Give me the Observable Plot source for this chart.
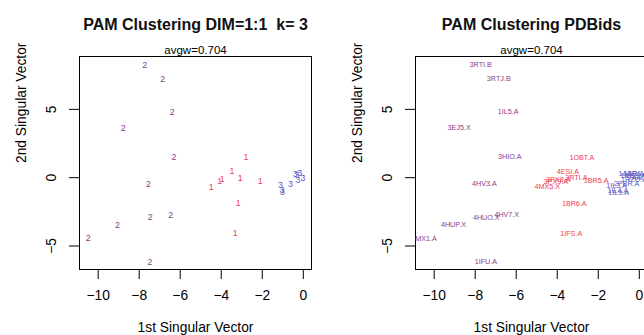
<!DOCTYPE html>
<html><head><meta charset="utf-8">
<script src="https://cdn.jsdelivr.net/npm/d3@7"></script>
<script src="https://cdn.jsdelivr.net/npm/@observablehq/plot@0.6"></script>
<style>
html,body{margin:0;padding:0;width:644px;height:335px;overflow:hidden;background:#fff}
#wrap{position:relative;width:644px;height:335px;overflow:hidden;background:#fff}
.panel{position:absolute;top:0}
</style></head><body><div id="wrap"></div>
<script>
// Data
const pointX = [-7.73,-6.85,-6.39,-8.78,-6.31,-7.55,-7.46,-6.46,-9.06,-10.49,-7.48,
  -2.80,-3.48,-3.95,-4.07,-3.07,-2.10,-4.49,-3.17,-3.32,
  -1.11,-1.04,-1.01,-0.62,-0.39,-0.18,-0.26,-0.02,-0.31];
const pointY = [8.26,7.21,4.83,3.64,1.53,-0.44,-2.91,-2.72,-3.47,-4.44,-6.16,
  1.49,0.47,-0.12,-0.29,-0.02,-0.22,-0.68,-1.87,-4.08,
  -0.58,-0.95,-1.09,-0.46,0.27,0.32,-0.17,0.00,0.15];
const cluster = [2,2,2,2,2,2,2,2,2,2,2,
  1,1,1,1,1,1,1,1,1,
  3,3,3,3,3,3,3,3,3];
const pdbIds = ["3RTI.B","3RTJ.B","1IL5.A","3EJ5.X","3HIO.A","4HV3.A","4HUO.X","4HV7.X","4HUP.X","4MX1.A","1IFU.A",
  "1OBT.A","4ESI.A","3PX8.A","3PX9.A","3RTI.A","1BR5.A","4MX5.X","1BR6.A","1IFS.A",
  "1IL3.A","1IL4.A","1IL9.A","2PBR.A","1ABR.A","1APA.A","1RZO.A","2AAI.A","1ABE.A"];
const clusterIds = [1,2,3];
const clusterColors = ["#f03c50","#8a3a8e","#5a5ac4"];
const xTicks = [-10,-8,-6,-4,-2,0];
const yTicks = [-5,0,5];
const xDomain = [-10.91,0.40];
const yDomain = [-6.72,8.87];
const titles = ["PAM Clustering DIM=1:1  k= 3","PAM Clustering PDBids"];
const subtitle = "avgw=0.704";
const xLabel = "1st Singular Vector";
const yLabel = "2nd Singular Vector";

const FONT = "'Liberation Sans', Arial, Helvetica, sans-serif";

function panel(title, labelOf, labelSize) {
  const data = pointX.map((x, i) => ({x, y: pointY[i], c: cluster[i], label: labelOf(i)}));
  return Plot.plot({
    width: 322, height: 335,
    marginLeft: 79, marginRight: 11, marginTop: 56, marginBottom: 66,
    style: {fontFamily: FONT, background: "white", color: "black", overflow: "visible"},
    x: {domain: xDomain, axis: null},
    y: {domain: yDomain, axis: null},
    color: {type: "ordinal", domain: clusterIds, range: clusterColors},
    marks: [
      Plot.frame({stroke: "black", strokeWidth: 1}),
      Plot.axisX({ticks: xTicks, tickSize: 10, tickPadding: 11, fontSize: 13.8, label: null, anchor: "bottom"}),
      Plot.axisY({ticks: yTicks, tickSize: 10, tickPadding: 13.5, tickRotate: -90, fontSize: 13.8, label: null, anchor: "left"}),
      Plot.text(data, {x: "x", y: "y", text: "label", fill: "c", fontSize: labelSize, clip: true}),
      Plot.text([title], {text: d => d, frameAnchor: "top", lineAnchor: "middle", dy: -31.6, fontSize: 16, fontWeight: "bold", fill: "#111"}),
      Plot.text([subtitle], {text: d => d, frameAnchor: "top", lineAnchor: "middle", dy: -6.5, fontSize: 11.5}),
      Plot.text([xLabel], {text: d => d, frameAnchor: "bottom", lineAnchor: "middle", dy: 58.5, fontSize: 13.8}),
      Plot.text([yLabel], {text: d => d, frameAnchor: "left", lineAnchor: "middle", dx: -57.9, rotate: -90, fontSize: 13.8})
    ]
  });
}

const wrap = document.getElementById("wrap");
const p1 = panel(titles[0], i => String(cluster[i]), 8.8);
p1.classList.add("panel"); p1.style.left = "0px";
const p2 = panel(titles[1], i => pdbIds[i], 7.2);
p2.classList.add("panel"); p2.style.left = "336px";
wrap.appendChild(p1);
wrap.appendChild(p2);
</script>
</body></html>
